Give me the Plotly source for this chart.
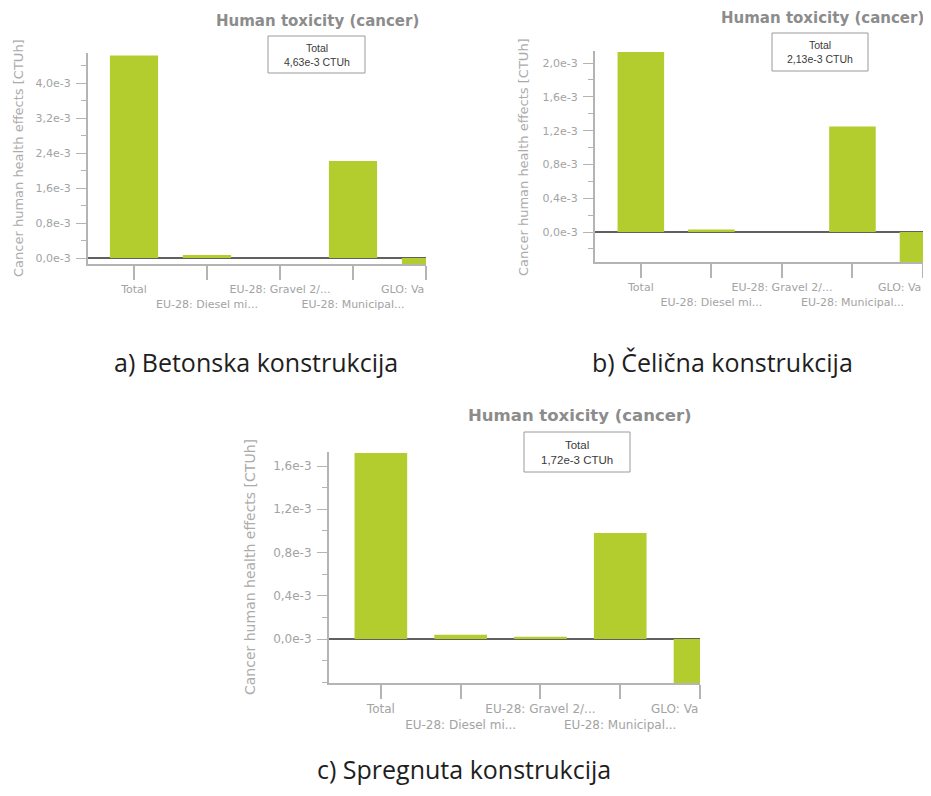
import plotly.graph_objects as go

# ---------------- data ----------------
categories = ["Total", "EU-28: Diesel mi...", "EU-28: Gravel 2/...",
              "EU-28: Municipal...", "GLO: Va"]

values_a = [4.63e-3, 0.07e-3, 0.0, 2.22e-3, -0.14e-3]
values_b = [2.13e-3, 0.03e-3, 0.0, 1.25e-3, -0.36e-3]
values_c = [1.72e-3, 0.04e-3, 0.02e-3, 0.98e-3, -0.41e-3]

total_label_a = "4,63e-3 CTUh"
total_label_b = "2,13e-3 CTUh"
total_label_c = "1,72e-3 CTUh"

ytick_vals_a = [0.0, 0.8e-3, 1.6e-3, 2.4e-3, 3.2e-3, 4.0e-3]
ytick_text_a = ["0,0e-3", "0,8e-3", "1,6e-3", "2,4e-3", "3,2e-3", "4,0e-3"]
ytick_vals_b = [0.0, 0.4e-3, 0.8e-3, 1.2e-3, 1.6e-3, 2.0e-3]
ytick_text_b = ["0,0e-3", "0,4e-3", "0,8e-3", "1,2e-3", "1,6e-3", "2,0e-3"]
ytick_vals_c = [0.0, 0.4e-3, 0.8e-3, 1.2e-3, 1.6e-3]
ytick_text_c = ["0,0e-3", "0,4e-3", "0,8e-3", "1,2e-3", "1,6e-3"]

chart_title = "Human toxicity (cancer)"
y_title = "Cancer human health effects [CTUh]"
caption_a = "a) Betonska konstrukcija"
caption_b = "b) Čelična konstrukcija"
caption_c = "c) Spregnuta konstrukcija"

# ---------------- layout helpers ----------------
OFF = 8                       # page body margin
W, H = 931 - 2 * OFF, 796 - 2 * OFF
BAR = "#b3cd2f"
AXIS = "#b4b4b4"
TXT = "#a3a3a3"
FONT = "DejaVu Sans, Verdana, sans-serif"


def px(x):
    return min(1.0, max(0.0, (x - OFF) / W))


def py(y):
    return min(1.0, max(0.0, 1 - (y - OFF) / H))


panels = [
    dict(vals=values_a, total=total_label_a, yv=ytick_vals_a, yt=ytick_text_a,
         minor=0.4e-3, box=(268, 36, 365, 73), dom=(88, 426, 53, 264),
         yr=[-0.137e-3, 4.69e-3], xr=[-0.63, 4.0], fs=11,
         title=(317, 21, 15), ytitle=(18, 158, 13), cap=(256, 362, caption_a)),
    dict(vals=values_b, total=total_label_b, yv=ytick_vals_b, yt=ytick_text_b,
         minor=0.2e-3, box=(772, 33, 868, 71), dom=(595, 931, 51, 262),
         yr=[-0.355e-3, 2.143e-3], xr=[-0.65, 4.0], fs=11,
         title=(822, 18, 15), ytitle=(523, 157, 13), cap=(722, 362, caption_b)),
    dict(vals=values_c, total=total_label_c, yv=ytick_vals_c, yt=ytick_text_c,
         minor=0.2e-3, box=(524, 432, 630, 472), dom=(329, 700, 452, 683),
         yr=[-0.407e-3, 1.73e-3], xr=[-0.65, 4.0], fs=12,
         title=(580, 415, 16.5), ytitle=(250, 567, 14), cap=(464, 769, caption_c)),
]

fig = go.Figure()
annotations = []
shapes = []
layout = {}

for i, p in enumerate(panels, start=1):
    xa = "x" if i == 1 else f"x{i}"
    ya = "y" if i == 1 else f"y{i}"
    xkey = "xaxis" if i == 1 else f"xaxis{i}"
    ykey = "yaxis" if i == 1 else f"yaxis{i}"

    fig.add_trace(go.Bar(x=categories, y=p["vals"], xaxis=xa, yaxis=ya,
                         marker=dict(color=BAR, line=dict(width=0)),
                         showlegend=False, hoverinfo="x+y"))

    # staggered tick labels (odd ones on a second row);
    # the last one is drawn right-aligned to its tick by an annotation below
    ticktext = []
    for k, c in enumerate(categories):
        if k == len(categories) - 1:
            ticktext.append("")
        elif k % 2 == 1:
            ticktext.append("<br>" + c)
        else:
            ticktext.append(c)

    x0, x1, y0, y1 = p["dom"]
    tickfont = dict(family=FONT, size=p["fs"], color=TXT)
    layout[xkey] = dict(
        domain=[px(x0), px(x1)], anchor=ya, type="category",
        range=p["xr"], tickmode="array", tickvals=categories, ticktext=ticktext,
        showline=True, linecolor=AXIS, linewidth=2,
        ticks="outside", ticklen=14, tickwidth=2, tickcolor=AXIS,
        tickfont=tickfont, tickangle=0, showgrid=False, zeroline=False,
        fixedrange=True,
    )
    layout[ykey] = dict(
        domain=[py(y1), py(y0)], anchor=xa, range=p["yr"],
        tickmode="array", tickvals=p["yv"], ticktext=p["yt"],
        showline=True, linecolor=AXIS, linewidth=2,
        ticks="outside", ticklen=10, tickwidth=1, tickcolor=AXIS,
        ticklabelstandoff=3,
        minor=dict(tickmode="linear", tick0=0, dtick=p["minor"], ticks="outside",
                   ticklen=5, tickcolor=AXIS, tickwidth=1, showgrid=False),
        tickfont=tickfont,
        showgrid=False, zeroline=True, zerolinecolor="#606060", zerolinewidth=2,
        fixedrange=True,
    )

    # last category label, right-aligned to its tick (clipped in the original)
    annotations.append(dict(x=categories[-1], xref=xa, y=py(y1), yref="paper",
                            yshift=-(14 + 3), text=categories[-1], showarrow=False,
                            xanchor="right", yanchor="top", font=tickfont))

    # chart title
    tx, ty, tfs = p["title"]
    annotations.append(dict(x=px(tx), y=py(ty), xref="paper", yref="paper",
                            text="<b>" + chart_title + "</b>", showarrow=False,
                            xanchor="center", yanchor="middle",
                            font=dict(family=FONT, size=tfs, color="#8c8c8c")))
    # total box
    bx0, by0, bx1, by1 = p["box"]
    shapes.append(dict(type="rect", xref="paper", yref="paper",
                       x0=px(bx0), x1=px(bx1), y0=py(by1), y1=py(by0),
                       line=dict(color="#9a9a9a", width=1), fillcolor="white"))
    annotations.append(dict(x=px((bx0 + bx1) / 2), y=py((by0 + by1) / 2),
                            xref="paper", yref="paper",
                            text="Total<br>" + p["total"], showarrow=False,
                            xanchor="center", yanchor="middle",
                            font=dict(family="Liberation Sans, Arial, sans-serif",
                                      size=p["fs"] - 0.5, color="#3a3a3a")))
    # y-axis title
    yx, yy, yfs = p["ytitle"]
    annotations.append(dict(x=px(yx), y=py(yy), xref="paper", yref="paper",
                            text=y_title, textangle=-90, showarrow=False,
                            xanchor="center", yanchor="middle",
                            font=dict(family=FONT, size=yfs, color="#ababab")))
    # caption
    cx, cy, ctext = p["cap"]
    annotations.append(dict(x=px(cx), y=py(cy), xref="paper", yref="paper",
                            text=ctext, showarrow=False,
                            xanchor="center", yanchor="middle",
                            font=dict(family="Open Sans, sans-serif",
                                      size=25, color="#1e1e1e")))

fig.update_layout(
    width=W, height=H, autosize=False,
    margin=dict(l=0, r=0, t=0, b=0),
    paper_bgcolor="white", plot_bgcolor="white",
    bargap=0.34, showlegend=False,
    annotations=annotations, shapes=shapes,
    **layout,
)

fig.write_html("out.html", config={"responsive": False})
